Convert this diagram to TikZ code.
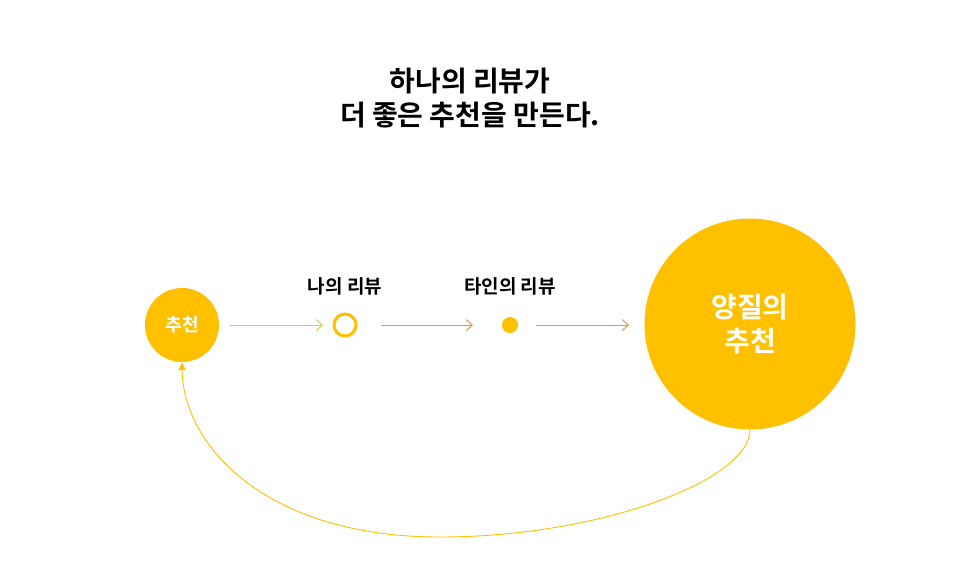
\documentclass[tikz,border=0pt]{standalone}
\usepackage{fontspec}
\setmainfont{Noto Sans CJK KR}[BoldFont={* Bold}]
\usetikzlibrary{arrows.meta}
\definecolor{amber}{HTML}{FFC000}
\definecolor{ayel}{HTML}{F5C040}
\definecolor{aora}{HTML}{E0965A}
\tikzset{
  disc/.style={circle, fill=amber, inner sep=0pt, text=white, font=\bfseries, align=center},
  flowy/.style={draw=ayel, line width=1pt, -{Straight Barb[length=6pt,width=11pt]}},
  flowo/.style={draw=aora, line width=1pt, -{Straight Barb[length=6pt,width=11pt]}},
  lbl/.style={font=\bfseries\fontsize{19}{22}\selectfont, text=black}
}
\begin{document}
\begin{tikzpicture}[x=1pt,y=-1pt]
\useasboundingbox (0,0) rectangle (957,574);
\node[font=\bfseries\fontsize{28}{34}\selectfont, align=center] (title) at (470,98) {하나의 리뷰가\\더 좋은 추천을 만든다.};
\node[disc, minimum size=74pt, font=\bfseries\fontsize{18}{22}\selectfont] (rec) at (182,325) {추천};
\node[circle, draw=amber, line width=3pt, minimum size=22pt, inner sep=0pt] (mine) at (345,325) {};
\node[circle, fill=amber, minimum size=16pt, inner sep=0pt] (other) at (510,325) {};
\node[disc, minimum size=211pt, font=\bfseries\fontsize{28}{34}\selectfont] (big) at (750,324) {양질의\\추천};
\node[lbl] (lmine) at (345,286) {나의 리뷰};
\node[lbl] (lother) at (510,286) {타인의 리뷰};
\coordinate (a1s) at (230,325); \coordinate (a1e) at (323,325);
\coordinate (a2s) at (381,325); \coordinate (a2e) at (473,325);
\coordinate (a3s) at (536,325); \coordinate (a3e) at (629,325);
\draw[flowy] (a1s) -- (a1e);
\draw[flowo] (a2s) -- (a2e);
\draw[flowo] (a3s) -- (a3e);
\draw[draw=amber, line width=0.9pt, -{Triangle[length=8pt,width=7pt]}]
  (big.south) .. controls (750,480) and (600,537) .. (440,537)
  .. controls (265,537) and (183,445) .. (rec.south);
\end{tikzpicture}
\end{document}
